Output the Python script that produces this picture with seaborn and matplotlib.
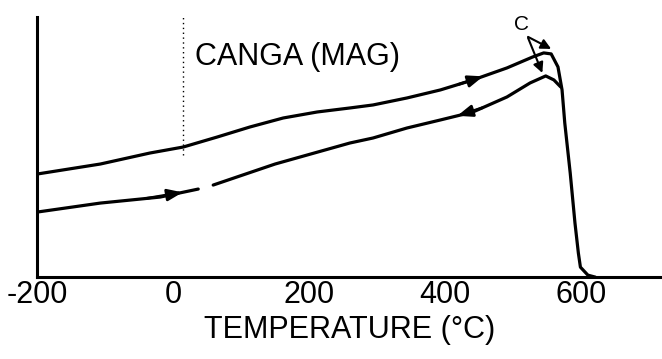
import numpy as np
import pandas as pd
import matplotlib
matplotlib.use("Agg")
import matplotlib.pyplot as plt
import seaborn as sns

# ---- data (y in arbitrary magnetisation units) ----
heat_T = [-200, -107, -34, 15, 65, 113, 162, 212, 260, 294, 344, 393, 441, 491,
          529, 545, 556, 566, 572, 576, 584, 591, 596, 599, 610, 621]
heat_M = [103, 113, 124, 130, 140, 150, 159, 165, 169, 172, 179, 187, 197, 209,
          220, 224, 223, 210, 187, 154, 104, 54, 24, 10, 2, 0]

cool_left_T = [-200, -107, -19, 37]
cool_left_M = [65, 74, 80, 88]
cool_right_T = [59, 150, 260, 294, 344, 393, 441, 491, 525, 548, 560, 570]
cool_right_M = [92, 113, 134, 139, 149, 157, 165, 180, 194, 201, 197, 190]

xticks = [-200, 0, 200, 400, 600]
xtick_labels = ["-200", "0", "200", "400", "600"]
title_text = "CANGA (MAG)"
xlabel_text = "TEMPERATURE (°C)"
curie_label = "C"

sns.set_style("white")
plt.rcParams["font.family"] = ["Liberation Sans", "DejaVu Sans"]
plt.rcParams["text.color"] = "black"
plt.rcParams["xtick.color"] = "black"
plt.rcParams["axes.labelcolor"] = "black"

fig = plt.figure(figsize=(6.62, 3.59), dpi=100)
ax = fig.add_axes([0.056, 0.228, 0.943, 0.725])

df_heat = pd.DataFrame({"T": heat_T, "M": heat_M})
df_cl = pd.DataFrame({"T": cool_left_T, "M": cool_left_M})
df_cr = pd.DataFrame({"T": cool_right_T, "M": cool_right_M})
for d in (df_heat, df_cl, df_cr):
    sns.lineplot(data=d, x="T", y="M", ax=ax, sort=False, estimator=None,
                 color="black", lw=2.3, solid_joinstyle="round")

# dotted room-temperature line
ax.plot([15, 15], [122, 262], color="black", lw=1.0, ls=(0, (1, 2.5)))

def arrow_on(xs, ys, x_tail, x_tip, hw=0.35, hl=0.9):
    yt = np.interp(x_tail, xs, ys)
    yp = np.interp(x_tip, xs, ys)
    ax.annotate("", xy=(x_tip, yp), xytext=(x_tail, yt),
                arrowprops=dict(arrowstyle=f"-|>,head_width={hw},head_length={hl}",
                                color="black", lw=2, shrinkA=0, shrinkB=0))

arrow_on(heat_T, heat_M, 420, 456)
arrow_on(cool_right_T, cool_right_M, 455, 418)
arrow_on(cool_left_T, cool_left_M, -40, 14)

# Curie point label with arrows
ax.text(513, 252, curie_label, fontsize=15, ha="center", va="center")
ax.annotate("", xy=(556, 228), xytext=(522, 240),
            arrowprops=dict(arrowstyle="-|>,head_width=0.3,head_length=0.6",
                            color="black", lw=1.5, shrinkA=0, shrinkB=0))
ax.annotate("", xy=(543, 204), xytext=(522, 239),
            arrowprops=dict(arrowstyle="-|>,head_width=0.3,head_length=0.6",
                            color="black", lw=1.5, shrinkA=0, shrinkB=0))

ax.text(32, 212, title_text, fontsize=22, ha="left", va="baseline")

ax.set_xlim(-200, 718)
ax.set_ylim(0, 260)
ax.set_xticks(xticks)
ax.set_xticklabels(xtick_labels, fontsize=22)
ax.set_yticks([])
ax.tick_params(axis="x", direction="in", length=10, width=2, pad=2, colors="black")
ax.set_xlabel(xlabel_text, fontsize=22, labelpad=4)
ax.set_ylabel("")
for s in ("top", "right"):
    ax.spines[s].set_visible(False)
for s in ("left", "bottom"):
    ax.spines[s].set_linewidth(2.2)
    ax.spines[s].set_color("black")

fig.savefig("out.png", dpi=100)
